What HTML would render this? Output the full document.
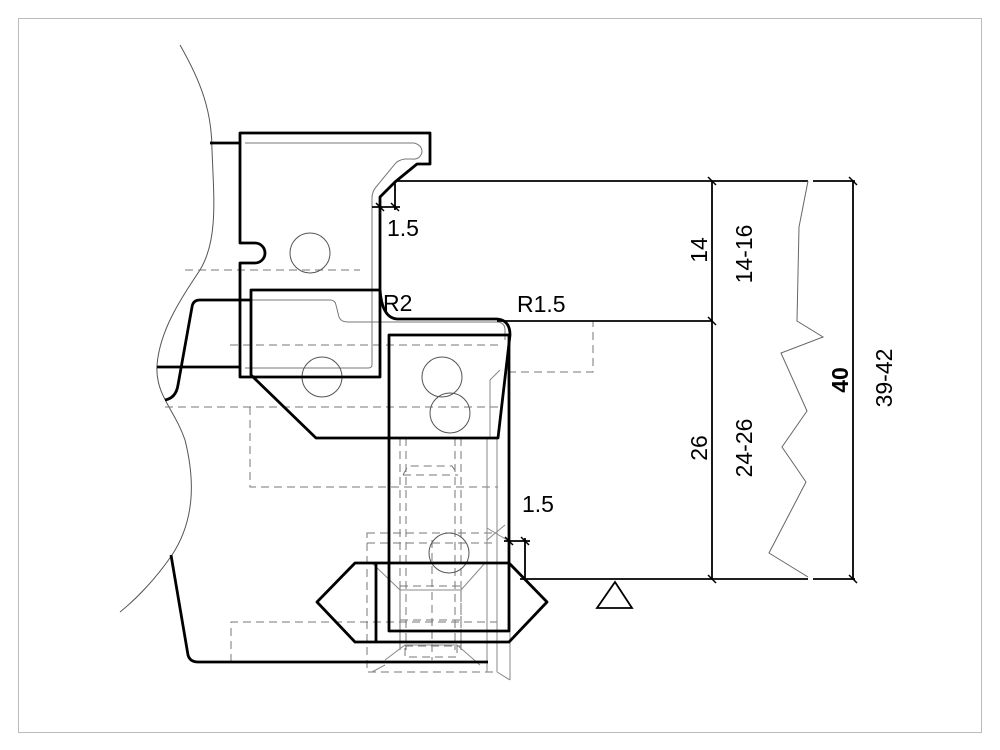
<!DOCTYPE html>
<html><head><meta charset="utf-8"><style>
html,body{margin:0;padding:0;background:#fff;}
svg{display:block;}
text{font-family:"Liberation Sans",sans-serif;fill:#000;}
</style></head><body>
<svg width="1000" height="750" viewBox="0 0 1000 750" xmlns="http://www.w3.org/2000/svg">
<rect x="18.5" y="18.5" width="963" height="714" fill="none" stroke="#bbb" stroke-width="1"/>

<path d="M180,45 C200,80 212,110 212,150 C214,200 218,240 200,270 C180,300 160,330 157,365 C155,395 175,410 185,440 C195,480 195,520 172,555 C155,580 135,600 120,612" fill="none" stroke="#555" stroke-width="1"/>

<g fill="none" stroke="#777" stroke-width="1" stroke-dasharray="8,5">
<line x1="185" y1="270" x2="360" y2="270"/>
<line x1="230" y1="345" x2="500" y2="345"/>
<line x1="165" y1="407" x2="500" y2="407"/>
<polyline points="250,407 250,487 498,487"/>
<polyline points="500,321 593,321 593,372 510,372"/>
<rect x="367" y="533" width="130" height="139"/>
<line x1="367" y1="543" x2="497" y2="543"/>
<polyline points="231,662 231,622 497,622"/>
<line x1="400" y1="438" x2="400" y2="650"/>
<line x1="406" y1="438" x2="406" y2="650"/>
<line x1="455" y1="438" x2="455" y2="650"/>
<line x1="461" y1="438" x2="461" y2="650"/>
<path d="M403,475 L408,466 L452,466 L458,475"/>
<line x1="403" y1="475" x2="458" y2="475"/>
<rect x="400" y="586" width="61" height="60"/>
<line x1="400" y1="620" x2="461" y2="620"/>
<rect x="405" y="645" width="52" height="12"/>
<line x1="432" y1="540" x2="432" y2="660"/>
</g>
<g fill="none" stroke="#888" stroke-width="1">
<line x1="487" y1="438" x2="487" y2="672"/>
<line x1="497" y1="438" x2="497" y2="672"/>
<polyline points="487,528 507,540"/>
<polyline points="487,540 505,525"/>
<polyline points="372,563 400,590 461,590 485,563"/>
<polyline points="385,660 405,645 457,645 480,665"/>
<line x1="497" y1="672" x2="510" y2="680"/>
<line x1="372" y1="672" x2="385" y2="665"/>
<line x1="510" y1="620" x2="510" y2="680"/>
<polyline points="500,370 490,380 490,438"/>
</g>

<path d="M245,143 L414,143 Q422,145 422,152 Q420,160 412,159 L405,159 Q398,160 395,164 L376,187 Q372,192 372,198 L372,365 Q372,368 368,368 L245,368" fill="none" stroke="#777" stroke-width="1"/>
<path d="M250,300 L330,300 Q335,300 336,305 L339,317 Q341,322 348,322 L498,322 Q505,323 505,330 L505,340" fill="none" stroke="#777" stroke-width="1"/>

<g fill="none" stroke="#555" stroke-width="1">
<circle cx="310" cy="253" r="20"/>
<circle cx="322" cy="377" r="20"/>
<circle cx="442" cy="377" r="20"/>
<circle cx="450" cy="413" r="20"/>
<circle cx="449" cy="553" r="20"/>
</g>

<g fill="none" stroke="#000" stroke-width="2.8" stroke-linejoin="round">
<path d="M240,133 L430,133 L430,164 L417,164 L395,182 L380,197 L380,377 L240,377 L240,263 L255,263 A10,10 0 0 0 255,243 L240,243 Z"/>
<path d="M380,290 Q382,318 397,319 L497,319 Q510,320 510,335 L498,438 L316,438 L251,375 L251,290 L380,290"/>
<rect x="389" y="335" width="120" height="296"/>
<path d="M355,563 L509,563 L547,602 L509,642 L355,642 L317,602 Z"/>
<line x1="376" y1="563" x2="376" y2="642"/>
<path d="M171,555 L188,655 Q190,662 198,662 L488,662"/>
<path d="M165,400 Q176,398 178,385 L192,307 Q193,300 200,300 L251,300"/>
<line x1="157" y1="367" x2="240" y2="367"/>
<line x1="210" y1="143" x2="240" y2="143"/>
</g>

<g fill="none" stroke="#000" stroke-width="1.8">
<line x1="395" y1="181" x2="808" y2="181"/>
<line x1="813" y1="181" x2="855" y2="181"/>
<line x1="497" y1="321" x2="712" y2="321"/>
<line x1="520" y1="579" x2="808" y2="579"/>
<line x1="813" y1="579" x2="855" y2="579"/>
<line x1="712" y1="181" x2="712" y2="579"/>
<line x1="853" y1="181" x2="853" y2="579"/>
<line x1="395" y1="181" x2="395" y2="210"/>
<line x1="372" y1="207" x2="400" y2="207"/>
<line x1="525" y1="538" x2="525" y2="579"/>
<line x1="504" y1="541" x2="530" y2="541"/>
</g>
<g stroke="#000" stroke-width="1.5">
<line x1="708" y1="177" x2="716" y2="185"/><line x1="708" y1="317" x2="716" y2="325"/><line x1="708" y1="575" x2="716" y2="583"/>
<line x1="849" y1="177" x2="857" y2="185"/><line x1="849" y1="575" x2="857" y2="583"/>
<line x1="376" y1="203" x2="384" y2="211"/><line x1="391" y1="203" x2="399" y2="211"/>
<line x1="505" y1="537" x2="513" y2="545"/><line x1="521" y1="537" x2="529" y2="545"/>
</g>

<polyline points="808,181 799,227 797,321 823,337 781,353 807,411 782,447 806,482 769,553 808,577" fill="none" stroke="#666" stroke-width="1"/>

<polygon points="597,608 615,582 632,608" fill="none" stroke="#000" stroke-width="1.8"/>

<g font-size="23">
<text x="387" y="236">1.5</text>
<text x="383" y="311">R2</text>
<text x="517" y="312">R1.5</text>
<text x="522" y="512">1.5</text>
<text transform="translate(707,250) rotate(-90)" text-anchor="middle">14</text>
<text transform="translate(752,254) rotate(-90)" text-anchor="middle">14-16</text>
<text transform="translate(707,448) rotate(-90)" text-anchor="middle">26</text>
<text transform="translate(752,448) rotate(-90)" text-anchor="middle">24-26</text>
<text transform="translate(848,380) rotate(-90)" text-anchor="middle" font-weight="bold">40</text>
<text transform="translate(892,378) rotate(-90)" text-anchor="middle">39-42</text>
</g>
</svg>
</body></html>
